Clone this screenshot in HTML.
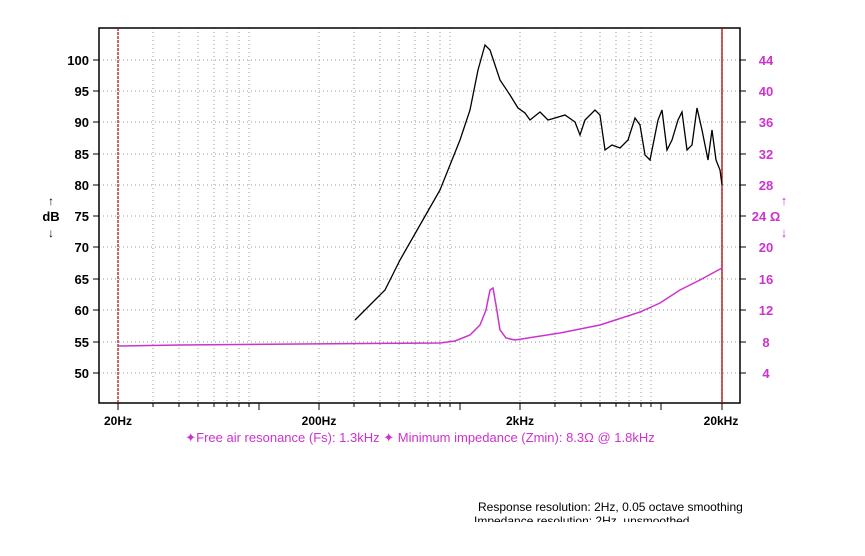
<!DOCTYPE html>
<html><head><style>
body{margin:0;background:#fff;}
svg{display:block;font-family:"Liberation Sans",sans-serif;}
</style></head><body>
<svg width="865" height="556" viewBox="0 0 865 556">
<rect width="865" height="556" fill="#fff"/>
<g stroke="#999" stroke-width="1" stroke-dasharray="1,3">
<path d="M99 60H740M99 91H740M99 122H740M99 154H740M99 185H740M99 216H740M99 247H740M99 279H740M99 310H740M99 342H740M99 373H740"/>
<path d="M153 28V403M179 28V403M198 28V403M214 28V403M227 28V403M239 28V403M249 28V403M319 28V403M354 28V403M380 28V403M399 28V403M415 28V403M428 28V403M440 28V403M450 28V403M520 28V403M555 28V403M581 28V403M600 28V403M616 28V403M629 28V403M641 28V403M651 28V403"/>
</g>
<rect x="99" y="28" width="641" height="375" fill="none" stroke="#000" stroke-width="1.5"/>
<g stroke="#000" stroke-width="1">
<path d="M93 60H99M93 91H99M93 122H99M93 154H99M93 185H99M93 216H99M93 247H99M93 279H99M93 310H99M93 342H99M93 373H99"/>
<path d="M740 60H746M740 91H746M740 122H746M740 154H746M740 185H746M740 216H746M740 247H746M740 279H746M740 310H746M740 342H746M740 373H746"/>
<path d="M118 403V410M259 403V410M319 403V410M460 403V410M520 403V410M661 403V410M722 403V410M153 403V407M179 403V407M198 403V407M214 403V407M227 403V407M239 403V407M249 403V407M354 403V407M380 403V407M399 403V407M415 403V407M428 403V407M440 403V407M450 403V407M555 403V407M581 403V407M600 403V407M616 403V407M629 403V407M641 403V407M651 403V407"/>
</g>
<path d="M118 28V403M722 28V403" stroke="#b00000" stroke-width="1.2" stroke-dasharray="3,1"/>
<path d="M722 28V403" stroke="#b00000" stroke-width="1.2"/>
<g font-size="13" font-weight="bold" text-anchor="end" fill="#000">
<text x="89" y="65">100</text><text x="89" y="96">95</text><text x="89" y="127">90</text><text x="89" y="159">85</text><text x="89" y="190">80</text><text x="89" y="221">75</text><text x="89" y="252">70</text><text x="89" y="284">65</text><text x="89" y="315">60</text><text x="89" y="347">55</text><text x="89" y="378">50</text>
</g>
<text x="51" y="205" font-size="12" font-weight="bold" text-anchor="middle">↑</text>
<text x="51" y="221" font-size="13" font-weight="bold" text-anchor="middle">dB</text>
<text x="51" y="237" font-size="12" font-weight="bold" text-anchor="middle">↓</text>
<g font-size="13" font-weight="bold" fill="#cc33cc" text-anchor="middle">
<text x="766" y="65">44</text><text x="766" y="96">40</text><text x="766" y="127">36</text><text x="766" y="159">32</text><text x="766" y="190">28</text><text x="766" y="221">24 Ω</text><text x="766" y="252">20</text><text x="766" y="284">16</text><text x="766" y="315">12</text><text x="766" y="347">8</text><text x="766" y="378">4</text>
<text x="784" y="205">↑</text><text x="784" y="237">↓</text>
</g>
<g font-size="12" font-weight="bold" text-anchor="middle" fill="#000">
<text x="118" y="425">20Hz</text><text x="319" y="425">200Hz</text><text x="520" y="425">2kHz</text><text x="721" y="425">20kHz</text>
</g>
<polyline fill="none" stroke="#000" stroke-width="1.3" points="355,320 365,310 375,300 385,290 400,260 420,225 440,190 460,140 470,110 478,70 485,45 490,50 500,80 510,95 518,108 525,113 530,120 540,112 548,120 555,118 565,115 575,122 580,135 585,120 595,110 600,115 605,150 612,145 620,148 628,140 635,118 640,125 645,155 650,160 658,120 662,110 667,150 672,140 678,120 682,112 687,150 692,145 697,108 702,130 708,160 712,130 716,160 720,170 722,185"/>
<polyline fill="none" stroke="#cc33cc" stroke-width="1.5" points="118,346 180,345 300,344 440,343 455,341 470,335 480,325 486,310 490,290 493,288 496,305 500,330 506,338 515,340 560,333 600,325 640,312 660,303 680,290 700,280 722,268"/>
<text x="420" y="442" font-size="13" fill="#cc33cc" text-anchor="middle">✦Free air resonance (Fs): 1.3kHz ✦ Minimum impedance (Zmin): 8.3Ω @ 1.8kHz</text>
<text x="478" y="511" font-size="12" fill="#000">Response resolution: 2Hz, 0.05 octave smoothing</text>
<text x="474" y="525" font-size="12" fill="#000">Impedance resolution: 2Hz, unsmoothed</text>
<rect x="0" y="522" width="865" height="34" fill="#fff"/>
</svg>
</body></html>
